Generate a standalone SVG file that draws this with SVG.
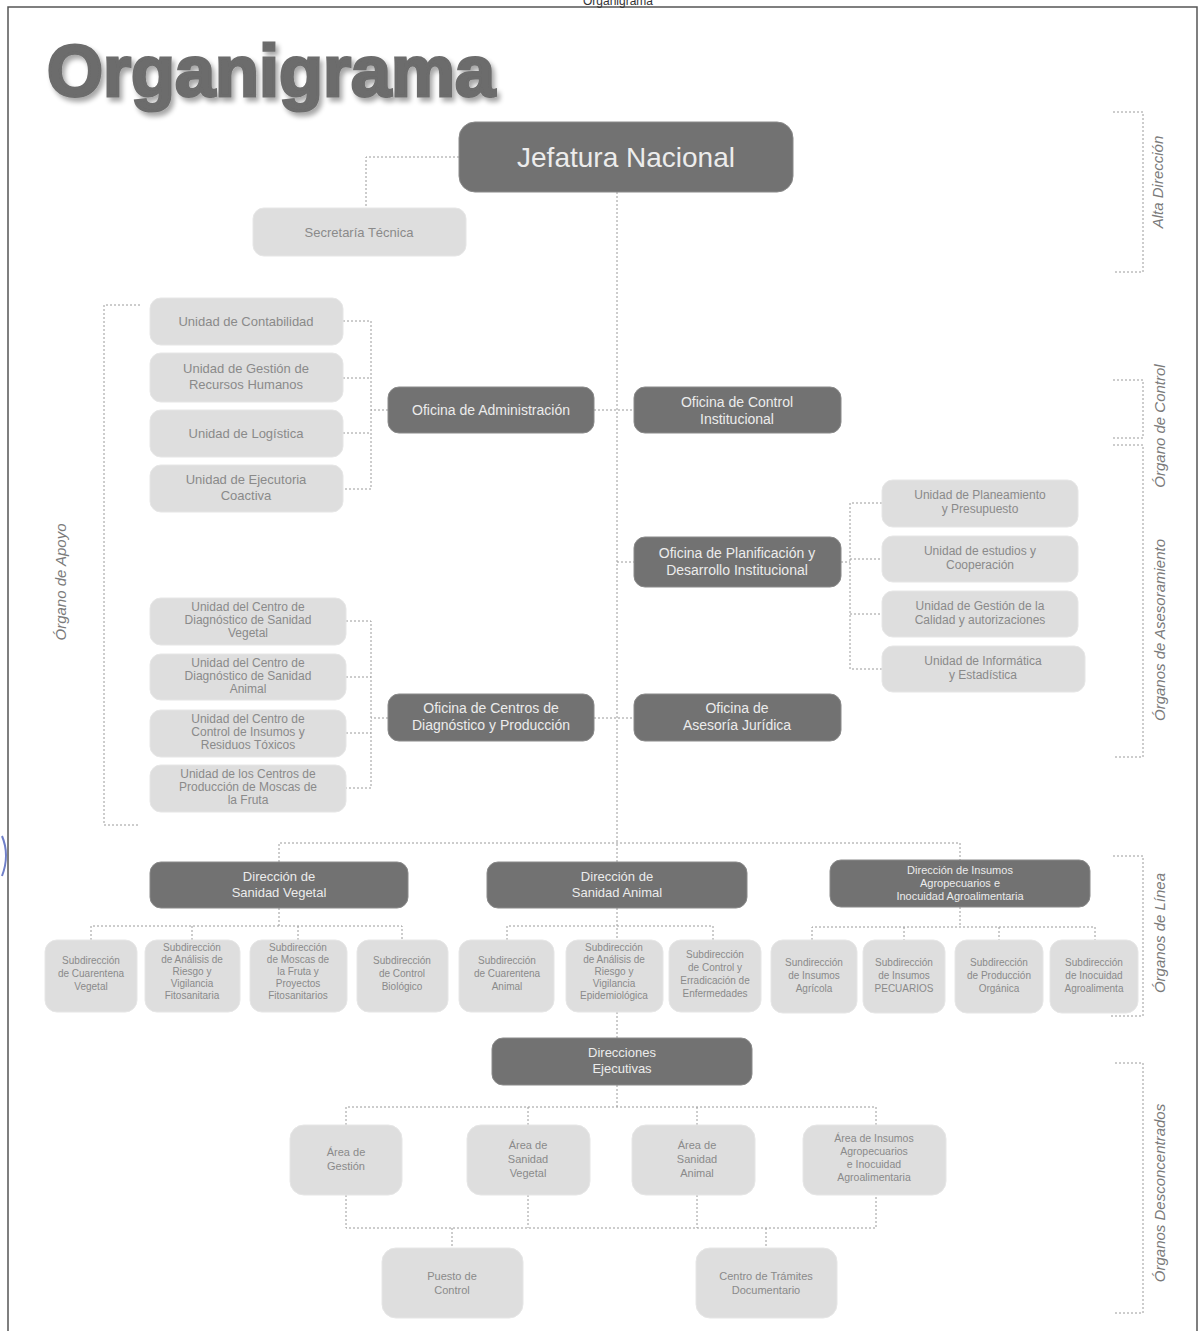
<svg xmlns="http://www.w3.org/2000/svg" width="1203" height="1331" viewBox="0 0 1203 1331">
<defs>
<filter id="shadow" x="-5%" y="-20%" width="115%" height="150%">
<feGaussianBlur in="SourceAlpha" stdDeviation="2.5"/>
<feOffset dx="3" dy="4" result="b"/>
<feComponentTransfer><feFuncA type="linear" slope="0.35"/></feComponentTransfer>
<feMerge><feMergeNode/><feMergeNode in="SourceGraphic"/></feMerge>
</filter>
</defs>
<style>
.dk{fill:#727272;stroke:#8a8a8a;stroke-width:1}
.lt{fill:#dedede;stroke:#e6e6e6;stroke-width:1}
.dt{font-family:"Liberation Sans",Arial,sans-serif;fill:#ececec;text-anchor:middle}
.lx{font-family:"Liberation Sans",Arial,sans-serif;fill:#8a8a8a;text-anchor:middle}
.cn{fill:none;stroke:#9a9a9a;stroke-width:1;stroke-dasharray:2 2}
.br{fill:none;stroke:#9a9a9a;stroke-width:1;stroke-dasharray:2 2}
.sl{font-family:"Liberation Sans",Arial,sans-serif;font-style:italic;fill:#7a7a7a;font-size:15px;text-anchor:middle}
</style>
<rect x="0" y="0" width="1203" height="1331" fill="#ffffff"/>
<rect x="8" y="7" width="1189" height="1330" fill="none" stroke="#555" stroke-width="1.5"/>
<text x="618" y="5" font-family="Liberation Sans,Arial,sans-serif" font-size="12" fill="#333" text-anchor="middle">Organigrama</text>
<path d="M2,836 Q10,855 2,876" fill="none" stroke="#6f7fc8" stroke-width="2"/>
<g id="title">
<text x="47" y="96" font-family="Liberation Sans,Arial,sans-serif" font-weight="bold" font-size="72" fill="#6c6c6c" stroke="#6c6c6c" stroke-width="3" filter="url(#shadow)">Organigrama</text>
</g>

<g id="connectors">
<path class="cn" d="M459,157 H366 V208"/>
<path class="cn" d="M617,192 V862"/>
<path class="cn" d="M594,410 H634"/>
<path class="cn" d="M617,562 H634"/>
<path class="cn" d="M594,718 H634"/>
<path class="cn" d="M388,410 H371"/>
<path class="cn" d="M343,321 H371 V489 H343 M343,378 H371 M343,433 H371"/>
<path class="cn" d="M841,562 H850"/>
<path class="cn" d="M882,503 H850 V669 H882 M850,559 H882 M850,614 H882"/>
<path class="cn" d="M388,718 H371"/>
<path class="cn" d="M346,621 H371 V788 H346 M346,677 H371 M346,733 H371"/>
<path class="cn" d="M279,862 V843 H960 V860"/>
<path class="cn" d="M279,908 V926 M91,940 V926 H402 V940 M192,926 V940 M298,926 V940"/>
<path class="cn" d="M617,908 V940 M507,940 V926 H713 V940"/>
<path class="cn" d="M960,907 V927 M812,940 V927 H1095 V940 M904,927 V940 M999,927 V940"/>
<path class="cn" d="M617,1012 V1038"/>
<path class="cn" d="M617,1085 V1107 M346,1125 V1107 H876 V1125 M528,1107 V1125 M697,1107 V1125"/>
<path class="cn" d="M346,1195 V1228 H876 V1195 M528,1195 V1228 M697,1195 V1228 M452,1228 V1248 M766,1228 V1248"/>
</g>

<g id="brackets">
<path class="br" d="M140,305 H104 V825 H140"/>
<path class="br" d="M1113,112 H1143 V272 H1115"/>
<path class="br" d="M1113,380 H1143 V438 H1113"/>
<path class="br" d="M1113,445 H1143 V757 H1115"/>
<path class="br" d="M1113,856 H1143 V1016 H1110"/>
<path class="br" d="M1115,1063 H1143 V1313 H1115"/>
</g>
<g id="side-labels">
<text class="sl" transform="translate(1163,182) rotate(-90)">Alta Dirección</text>
<text class="sl" transform="translate(1165,426) rotate(-90)">Órgano de Control</text>
<text class="sl" transform="translate(1165,630) rotate(-90)">Órganos de Asesoramiento</text>
<text class="sl" transform="translate(1165,933) rotate(-90)">Órganos de Línea</text>
<text class="sl" transform="translate(1165,1193) rotate(-90)">Órganos Desconcentrados</text>
<text class="sl" transform="translate(66,582) rotate(-90)">Órgano de Apoyo</text>
</g>

<g id="jefatura"><rect class="dk" x="459" y="122" width="334" height="70" rx="16"/><text class="dt" x="626" y="167" font-size="28">Jefatura Nacional</text></g>
<g id="secretaria"><rect class="lt" x="253" y="208" width="213" height="48" rx="11"/><text class="lx" x="359" y="237" font-size="13">Secretaría Técnica</text></g>

<g id="u-contabilidad"><rect class="lt" x="150" y="298" width="193" height="47" rx="11"/><text class="lx" x="246" y="326" font-size="13">Unidad de Contabilidad</text></g>
<g id="u-rrhh"><rect class="lt" x="150" y="353" width="193" height="49" rx="11"/><text class="lx" x="246" y="373" font-size="13">Unidad de Gestión de</text><text class="lx" x="246" y="389" font-size="13">Recursos Humanos</text></g>
<g id="u-logistica"><rect class="lt" x="150" y="410" width="193" height="47" rx="11"/><text class="lx" x="246" y="438" font-size="13">Unidad de Logística</text></g>
<g id="u-coactiva"><rect class="lt" x="150" y="465" width="193" height="47" rx="11"/><text class="lx" x="246" y="484" font-size="13">Unidad de Ejecutoria</text><text class="lx" x="246" y="500" font-size="13">Coactiva</text></g>

<g id="of-admin"><rect class="dk" x="388" y="387" width="206" height="46" rx="11"/><text class="dt" x="491" y="415" font-size="14">Oficina de Administración</text></g>
<g id="of-control"><rect class="dk" x="634" y="387" width="207" height="46" rx="11"/><text class="dt" x="737" y="407" font-size="14">Oficina de Control</text><text class="dt" x="737" y="424" font-size="14">Institucional</text></g>
<g id="of-planif"><rect class="dk" x="634" y="537" width="207" height="50" rx="11"/><text class="dt" x="737" y="558" font-size="14">Oficina de Planificación y</text><text class="dt" x="737" y="575" font-size="14">Desarrollo Institucional</text></g>

<g id="u-planeamiento"><rect class="lt" x="882" y="480" width="196" height="47" rx="11"/><text class="lx" x="980" y="499" font-size="12">Unidad de Planeamiento</text><text class="lx" x="980" y="513" font-size="12">y Presupuesto</text></g>
<g id="u-estudios"><rect class="lt" x="882" y="536" width="196" height="46" rx="11"/><text class="lx" x="980" y="555" font-size="12">Unidad de estudios y</text><text class="lx" x="980" y="569" font-size="12">Cooperación</text></g>
<g id="u-calidad"><rect class="lt" x="882" y="591" width="196" height="46" rx="11"/><text class="lx" x="980" y="610" font-size="12">Unidad de Gestión de la</text><text class="lx" x="980" y="624" font-size="12">Calidad y autorizaciones</text></g>
<g id="u-informatica"><rect class="lt" x="882" y="646" width="203" height="46" rx="11"/><text class="lx" x="983" y="665" font-size="12">Unidad de Informática</text><text class="lx" x="983" y="679" font-size="12">y Estadística</text></g>

<g id="of-centros"><rect class="dk" x="388" y="694" width="206" height="47" rx="11"/><text class="dt" x="491" y="713" font-size="14">Oficina de Centros de</text><text class="dt" x="491" y="730" font-size="14">Diagnóstico y Producción</text></g>
<g id="of-juridica"><rect class="dk" x="634" y="694" width="207" height="47" rx="11"/><text class="dt" x="737" y="713" font-size="14">Oficina de</text><text class="dt" x="737" y="730" font-size="14">Asesoría Jurídica</text></g>

<g id="u-cd-vegetal"><rect class="lt" x="150" y="598" width="196" height="47" rx="11"/><text class="lx" x="248" y="611" font-size="12">Unidad del Centro de</text><text class="lx" x="248" y="624" font-size="12">Diagnóstico de Sanidad</text><text class="lx" x="248" y="637" font-size="12">Vegetal</text></g>
<g id="u-cd-animal"><rect class="lt" x="150" y="654" width="196" height="46" rx="11"/><text class="lx" x="248" y="667" font-size="12">Unidad del Centro de</text><text class="lx" x="248" y="680" font-size="12">Diagnóstico de Sanidad</text><text class="lx" x="248" y="693" font-size="12">Animal</text></g>
<g id="u-cc-insumos"><rect class="lt" x="150" y="710" width="196" height="47" rx="11"/><text class="lx" x="248" y="723" font-size="12">Unidad del Centro de</text><text class="lx" x="248" y="736" font-size="12">Control de Insumos y</text><text class="lx" x="248" y="749" font-size="12">Residuos Tóxicos</text></g>
<g id="u-moscas"><rect class="lt" x="150" y="765" width="196" height="47" rx="11"/><text class="lx" x="248" y="778" font-size="12">Unidad de los Centros de</text><text class="lx" x="248" y="791" font-size="12">Producción de Moscas de</text><text class="lx" x="248" y="804" font-size="12">la Fruta</text></g>

<g id="d-vegetal"><rect class="dk" x="150" y="862" width="258" height="46" rx="11"/><text class="dt" x="279" y="881" font-size="13">Dirección de</text><text class="dt" x="279" y="897" font-size="13">Sanidad Vegetal</text></g>
<g id="d-animal"><rect class="dk" x="487" y="862" width="260" height="46" rx="11"/><text class="dt" x="617" y="881" font-size="13">Dirección de</text><text class="dt" x="617" y="897" font-size="13">Sanidad Animal</text></g>
<g id="d-insumos"><rect class="dk" x="830" y="860" width="260" height="47" rx="11"/><text class="dt" x="960" y="874" font-size="11">Dirección de Insumos</text><text class="dt" x="960" y="887" font-size="11">Agropecuarios e</text><text class="dt" x="960" y="900" font-size="11">Inocuidad Agroalimentaria</text></g>

<g id="s-v1"><rect class="lt" x="45" y="940" width="92" height="72" rx="12"/><text class="lx" x="91" y="964" font-size="10">Subdirección</text><text class="lx" x="91" y="977" font-size="10">de Cuarentena</text><text class="lx" x="91" y="990" font-size="10">Vegetal</text></g>
<g id="s-v2"><rect class="lt" x="145" y="940" width="95" height="72" rx="12"/><text class="lx" x="192" y="951" font-size="10">Subdirección</text><text class="lx" x="192" y="963" font-size="10">de Análisis de</text><text class="lx" x="192" y="975" font-size="10">Riesgo y</text><text class="lx" x="192" y="987" font-size="10">Vigilancia</text><text class="lx" x="192" y="999" font-size="10">Fitosanitaria</text></g>
<g id="s-v3"><rect class="lt" x="250" y="940" width="97" height="72" rx="12"/><text class="lx" x="298" y="951" font-size="10">Subdirección</text><text class="lx" x="298" y="963" font-size="10">de Moscas de</text><text class="lx" x="298" y="975" font-size="10">la Fruta y</text><text class="lx" x="298" y="987" font-size="10">Proyectos</text><text class="lx" x="298" y="999" font-size="10">Fitosanitarios</text></g>
<g id="s-v4"><rect class="lt" x="357" y="940" width="91" height="72" rx="12"/><text class="lx" x="402" y="964" font-size="10">Subdirección</text><text class="lx" x="402" y="977" font-size="10">de Control</text><text class="lx" x="402" y="990" font-size="10">Biológico</text></g>
<g id="s-a1"><rect class="lt" x="459" y="940" width="95" height="72" rx="12"/><text class="lx" x="507" y="964" font-size="10">Subdirección</text><text class="lx" x="507" y="977" font-size="10">de Cuarentena</text><text class="lx" x="507" y="990" font-size="10">Animal</text></g>
<g id="s-a2"><rect class="lt" x="566" y="940" width="97" height="72" rx="12"/><text class="lx" x="614" y="951" font-size="10">Subdirección</text><text class="lx" x="614" y="963" font-size="10">de Análisis de</text><text class="lx" x="614" y="975" font-size="10">Riesgo y</text><text class="lx" x="614" y="987" font-size="10">Vigilancia</text><text class="lx" x="614" y="999" font-size="10">Epidemiológica</text></g>
<g id="s-a3"><rect class="lt" x="669" y="940" width="92" height="72" rx="12"/><text class="lx" x="715" y="958" font-size="10">Subdirección</text><text class="lx" x="715" y="971" font-size="10">de Control y</text><text class="lx" x="715" y="984" font-size="10">Erradicación de</text><text class="lx" x="715" y="997" font-size="10">Enfermedades</text></g>
<g id="s-i1"><rect class="lt" x="771" y="940" width="86" height="73" rx="12"/><text class="lx" x="814" y="966" font-size="10">Sundirección</text><text class="lx" x="814" y="979" font-size="10">de Insumos</text><text class="lx" x="814" y="992" font-size="10">Agrícola</text></g>
<g id="s-i2"><rect class="lt" x="863" y="940" width="82" height="73" rx="12"/><text class="lx" x="904" y="966" font-size="10">Subdirección</text><text class="lx" x="904" y="979" font-size="10">de Insumos</text><text class="lx" x="904" y="992" font-size="10">PECUARIOS</text></g>
<g id="s-i3"><rect class="lt" x="955" y="940" width="88" height="73" rx="12"/><text class="lx" x="999" y="966" font-size="10">Subdirección</text><text class="lx" x="999" y="979" font-size="10">de Producción</text><text class="lx" x="999" y="992" font-size="10">Orgánica</text></g>
<g id="s-i4"><rect class="lt" x="1050" y="940" width="88" height="73" rx="12"/><text class="lx" x="1094" y="966" font-size="10">Subdirección</text><text class="lx" x="1094" y="979" font-size="10">de Inocuidad</text><text class="lx" x="1094" y="992" font-size="10">Agroalimenta</text></g>

<g id="d-ejecutivas"><rect class="dk" x="492" y="1038" width="260" height="47" rx="11"/><text class="dt" x="622" y="1057" font-size="13">Direcciones</text><text class="dt" x="622" y="1073" font-size="13">Ejecutivas</text></g>

<g id="a-gestion"><rect class="lt" x="290" y="1125" width="112" height="70" rx="14"/><text class="lx" x="346" y="1156" font-size="11">Área de</text><text class="lx" x="346" y="1170" font-size="11">Gestión</text></g>
<g id="a-vegetal"><rect class="lt" x="467" y="1125" width="123" height="70" rx="14"/><text class="lx" x="528" y="1149" font-size="11">Área de</text><text class="lx" x="528" y="1163" font-size="11">Sanidad</text><text class="lx" x="528" y="1177" font-size="11">Vegetal</text></g>
<g id="a-animal"><rect class="lt" x="632" y="1125" width="123" height="70" rx="14"/><text class="lx" x="697" y="1149" font-size="11">Área de</text><text class="lx" x="697" y="1163" font-size="11">Sanidad</text><text class="lx" x="697" y="1177" font-size="11">Animal</text></g>
<g id="a-insumos"><rect class="lt" x="803" y="1125" width="143" height="70" rx="14"/><text class="lx" x="874" y="1142" font-size="10.5">Área de Insumos</text><text class="lx" x="874" y="1155" font-size="10.5">Agropecuarios</text><text class="lx" x="874" y="1168" font-size="10.5">e Inocuidad</text><text class="lx" x="874" y="1181" font-size="10.5">Agroalimentaria</text></g>

<g id="puesto"><rect class="lt" x="382" y="1248" width="141" height="70" rx="14"/><text class="lx" x="452" y="1280" font-size="11">Puesto de</text><text class="lx" x="452" y="1294" font-size="11">Control</text></g>
<g id="tramites"><rect class="lt" x="696" y="1248" width="141" height="70" rx="14"/><text class="lx" x="766" y="1280" font-size="11">Centro de Trámites</text><text class="lx" x="766" y="1294" font-size="11">Documentario</text></g>
</svg>
